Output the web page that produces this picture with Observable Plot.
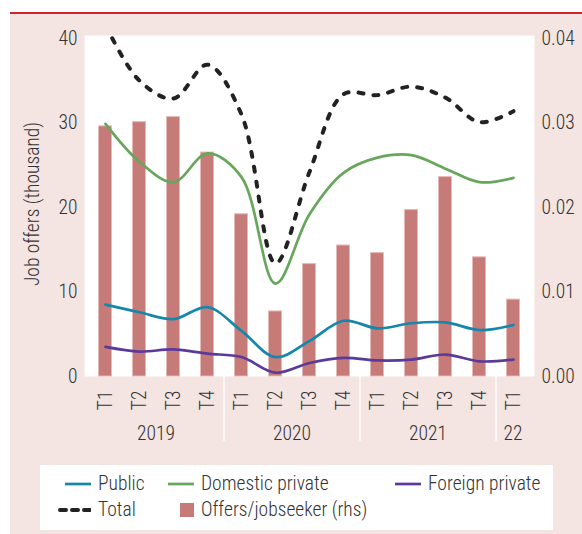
<!DOCTYPE html>
<html><head><meta charset="utf-8">
<script src="https://cdn.jsdelivr.net/npm/d3@7"></script>
<script src="https://cdn.jsdelivr.net/npm/@observablehq/plot@0.6"></script>
<style>
body{margin:0;background:#fff;}
#wrap{position:relative;width:582px;height:534px;overflow:hidden;font-family:"Roboto Condensed","Liberation Sans Narrow","Arial Narrow","DejaVu Sans Condensed",sans-serif;font-weight:300;color:#333;}
#bg{position:absolute;left:10px;top:12px;right:0;bottom:0;background:#f4e4e2;border-top:2px solid #d2232a;}
#plot{position:absolute;left:0;top:0;}
#legend{position:absolute;left:40px;top:465px;width:513px;height:65px;background:#fff;}
.item{position:absolute;display:flex;align-items:center;font-size:19.5px;line-height:22px;white-space:nowrap;color:#333;}
.item svg{margin-right:7px;}
</style></head><body>
<div id="wrap"><div id="bg"></div><div id="plot"></div><div id="legend"></div></div>
<script>
// ---- data ----
const years = ["2019","2019","2019","2019","2020","2020","2020","2020","2021","2021","2021","2021","2022"];
const quarters = ["T1","T2","T3","T4","T1","T2","T3","T4","T1","T2","T3","T4","T1"];
const yearLabels = {"2019":"2019","2020":"2020","2021":"2021","2022":"22"};
const publicSector = [8.5, 7.6, 6.8, 8.2, 5.4, 2.3, 4.2, 6.6, 5.7, 6.3, 6.4, 5.5, 6.1];
const domesticPrivate = [29.9, 25.4, 23.0, 26.4, 23.6, 11.0, 19.2, 24.1, 25.9, 26.2, 24.6, 23.0, 23.5];
const foreignPrivate = [3.5, 2.95, 3.2, 2.7, 2.3, 0.45, 1.6, 2.2, 1.9, 2.0, 2.6, 1.8, 2.0];
const total = [41.6, 35.0, 32.9, 36.9, 31.0, 13.4, 24.2, 33.4, 33.3, 34.3, 33.0, 30.1, 31.4];
const offersPerJobseeker = [0.0296, 0.0301, 0.0307, 0.0265, 0.0192, 0.0077, 0.0133, 0.0155, 0.0146, 0.0197, 0.0236, 0.0141, 0.0091];
const leftTicks = [0, 10, 20, 30, 40];
const rightTicks = [0, 0.01, 0.02, 0.03, 0.04];

const C = {pub:"#1487ab", dom:"#68a65c", for:"#5b3a9b", tot:"#222222", bar:"#c77b78"};
const FONT = '"Roboto Condensed","Liberation Sans Narrow","Arial Narrow","DejaVu Sans Condensed",sans-serif';
const FS = 19.5;

const periods = quarters.map((q, i) => years[i] + " " + q);
const rows = periods.map((p, i) => ({p, pub: publicSector[i], dom: domesticPrivate[i], fr: foreignPrivate[i], tot: total[i], r: offersPerJobseeker[i]}));
const RHS = 1000; // 0.04 on the right axis == 40 on the left axis

const H = 460;
const chart = Plot.plot({
  width: 582, height: H,
  marginLeft: 84, marginRight: 48, marginTop: 35, marginBottom: H - 376,
  insetTop: 3,
  style: {background: "transparent", fontFamily: FONT, fontSize: FS + "px", fontWeight: 300, color: "#333", overflow: "visible"},
  x: {type: "band", domain: periods, padding: 0},
  y: {domain: [0, 40]},
  marks: [
    Plot.frame({fill: "white", stroke: "none"}),
    Plot.barY(rows, {x: "p", y: d => d.r * RHS, fill: C.bar, stroke: "#e4b9b6", strokeWidth: 1, insetLeft: 10.5, insetRight: 10.5}),
    Plot.line(rows, {x: "p", y: "fr", stroke: C.for, strokeWidth: 2.7, curve: "catmull-rom"}),
    Plot.line(rows, {x: "p", y: "pub", stroke: C.pub, strokeWidth: 2.7, curve: "catmull-rom"}),
    Plot.line(rows, {x: "p", y: "dom", stroke: C.dom, strokeWidth: 2.7, curve: "catmull-rom"}),
    Plot.line(rows, {x: "p", y: "tot", stroke: C.tot, strokeWidth: 4, strokeDasharray: "5 10", strokeLinecap: "round", curve: "catmull-rom", clip: true}),
    Plot.axisY({anchor: "left", ticks: leftTicks, tickSize: 0, tickPadding: 7, label: null, fontSize: FS}),
    Plot.axisY({anchor: "right", ticks: rightTicks.map(v => v * RHS), tickFormat: d => (d / RHS).toFixed(2), tickSize: 0, tickPadding: 7, label: null, fontSize: FS}),
    Plot.axisX({tickRotate: -90, tickSize: 0, tickPadding: 14, tickFormat: d => d.split(" ")[1], label: null, fontSize: FS}),
    Plot.text(["Job offers (thousand)"], {text: d => d, frameAnchor: "left", textAnchor: "middle", rotate: -90, dx: -52, dy: -2, fontSize: FS, fill: "#333"})
  ]
});

// year group labels and separators, positioned through Plot's x scale
const xs = chart.scale("x");
const bw = xs.bandwidth;
const svg = d3.select(chart);
const groups = d3.groups(periods.map((p, i) => ({p, y: years[i]})), d => d.y);
const g = svg.append("g").attr("font-family", FONT).attr("font-size", FS).attr("font-weight", 300).attr("fill", "#333");
groups.forEach(([yr, items], k) => {
  const cx = d3.mean(items, d => xs.apply(d.p) + bw / 2);
  g.append("text").attr("x", cx).attr("y", 433).attr("text-anchor", "middle").attr("dy", "0.35em").text(yearLabels[yr]);
  if (k > 0) {
    const sx = xs.apply(items[0].p);
    g.append("line").attr("x1", sx).attr("x2", sx).attr("y1", 376).attr("y2", 441).attr("stroke", "#fff").attr("stroke-width", 1.5);
  }
});

document.getElementById("plot").appendChild(chart);

// legend
const legend = d3.select("#legend");
const items = [
  {name: "Public", kind: "line", color: C.pub, left: 25, top: 8},
  {name: "Domestic private", kind: "line", color: C.dom, left: 128, top: 8},
  {name: "Foreign private", kind: "line", color: C.for, left: 355, top: 8},
  {name: "Total", kind: "dash", color: C.tot, left: 18, top: 34},
  {name: "Offers/jobseeker (rhs)", kind: "box", color: C.bar, left: 140, top: 34}
];
items.forEach(it => {
  const d = legend.append("div").attr("class", "item").style("left", it.left + "px").style("top", it.top + "px");
  const w = it.kind === "box" ? 14 : it.kind === "dash" ? 33 : 26;
  const s = d.append("svg").attr("width", w).attr("height", 22);
  if (it.kind === "line") s.append("line").attr("x1", 0).attr("x2", w).attr("y1", 11).attr("y2", 11).attr("stroke", it.color).attr("stroke-width", 2.7);
  if (it.kind === "dash") s.append("line").attr("x1", 2).attr("x2", w).attr("y1", 11).attr("y2", 11).attr("stroke", it.color).attr("stroke-width", 4).attr("stroke-dasharray", "6 6").attr("stroke-linecap", "round");
  if (it.kind === "box") s.append("rect").attr("x", 0).attr("y", 4).attr("width", 14).attr("height", 14).attr("fill", it.color);
  d.append("span").text(it.name);
});
</script>
</body></html>
